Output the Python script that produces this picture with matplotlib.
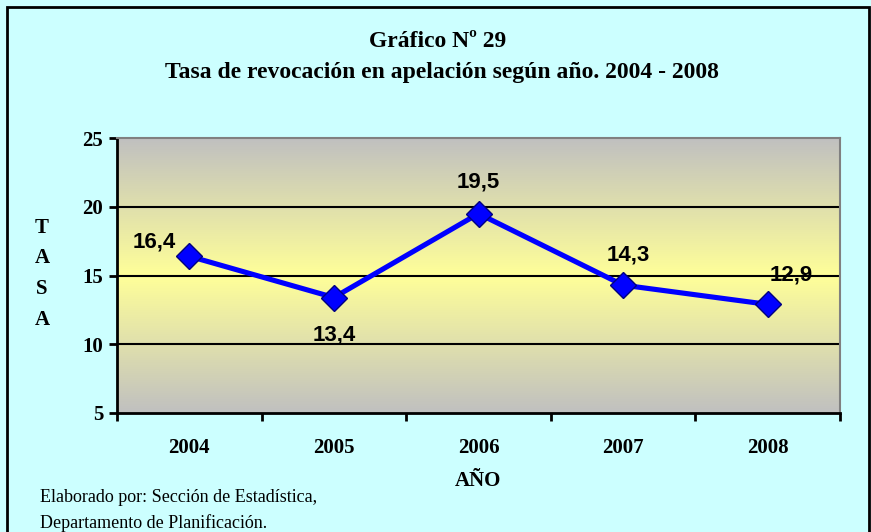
import matplotlib.pyplot as plt
import numpy as np
from matplotlib.colors import LinearSegmentedColormap
from matplotlib.patches import Rectangle

years = ['2004', '2005', '2006', '2007', '2008']
tasa = [16.4, 13.4, 19.5, 14.3, 12.9]
labels = ['16,4', '13,4', '19,5', '14,3', '12,9']
# label offsets in points (dx, dy)
offsets = [(-25, 10), (0, -27), (0, 23), (4, 22), (17, 21)]

serif = ['Liberation Serif', 'DejaVu Serif']
sans = ['Liberation Sans', 'DejaVu Sans']

fig = plt.figure(figsize=(8.71, 5.32), dpi=100)
fig.patch.set_facecolor('#CCFFFF')
fig.patches.append(Rectangle((7 / 871, -0.01), 862 / 871, 1 - 7 / 532 + 0.01,
                             transform=fig.transFigure, fill=False,
                             edgecolor='black', linewidth=2))

W, H = 871, 532
ax = fig.add_axes([117 / W, 1 - 413 / H, (840 - 117) / W, (413 - 138) / H])

# gradient background: gray -> light yellow -> gray
cmap = LinearSegmentedColormap.from_list('g', ['#C0C0C0', '#FFFF99', '#C0C0C0'])
grad = np.linspace(0, 1, 256).reshape(-1, 1)
ax.imshow(grad, aspect='auto', cmap=cmap, extent=[-0.5, 4.5, 5, 25],
          origin='lower', zorder=0)

for y in [10, 15, 20]:
    ax.axhline(y, color='black', linewidth=1.5, zorder=1)

x = np.arange(len(years))
ax.plot(x, tasa, color='#0000FF', linewidth=3.7, marker='D', markersize=13,
        markerfacecolor='#0000FF', markeredgecolor='#000080', markeredgewidth=1,
        zorder=3)

for xi, yi, lab, (dx, dy) in zip(x, tasa, labels, offsets):
    ax.annotate(lab, (xi, yi), xytext=(dx, dy), textcoords='offset points',
                ha='center', va='center', fontsize=16, fontweight='bold',
                family=sans, zorder=4)

ax.set_xlim(-0.5, 4.5)
ax.set_ylim(5, 25)
ax.set_yticks([5, 10, 15, 20, 25])
ax.set_xticks(np.arange(-0.5, 5, 1), minor=False)
ax.set_xticklabels([])
ax.set_xticks(x, minor=True)
ax.set_xticklabels(years, minor=True)
ax.tick_params(axis='x', which='major', length=6, width=2, direction='out')
ax.tick_params(axis='x', which='minor', length=0, pad=18)
ax.tick_params(axis='y', length=6, width=2, direction='out', pad=4)
for t in ax.get_yticklabels() + ax.get_xticklabels(minor=True):
    t.set_fontfamily(serif)
    t.set_fontweight('bold')
    t.set_fontsize(15)

ax.spines['left'].set_linewidth(2)
ax.spines['bottom'].set_linewidth(2)
ax.spines['top'].set_color('#808080')
ax.spines['right'].set_color('#808080')
ax.spines['top'].set_linewidth(1.5)
ax.spines['right'].set_linewidth(1.5)

fig.text(438 / W, 1 - 47 / H, 'Gráfico Nº 29', ha='center', va='baseline',
         fontsize=17, fontweight='bold', family=serif)
fig.text(442 / W, 1 - 78 / H, 'Tasa de revocación en apelación según año. 2004 - 2008',
         ha='center', va='baseline', fontsize=17, fontweight='bold', family=serif)

for letter, yy in zip('TASA', [228, 258, 289, 320]):
    fig.text(42 / W, 1 - yy / H, letter, ha='center', va='center',
             fontsize=15, fontweight='bold', family=serif)

fig.text(478 / W, 1 - 481 / H, 'AÑO', ha='center', va='center',
         fontsize=15, fontweight='bold', family=serif)

fig.text(40 / W, 1 - 498 / H, 'Elaborado por: Sección de Estadística,',
         ha='left', va='center', fontsize=13, family=serif)
fig.text(40 / W, 1 - 523 / H, 'Departamento de Planificación.',
         ha='left', va='center', fontsize=13, family=serif)

plt.savefig('out.png', dpi=100, facecolor=fig.get_facecolor())
